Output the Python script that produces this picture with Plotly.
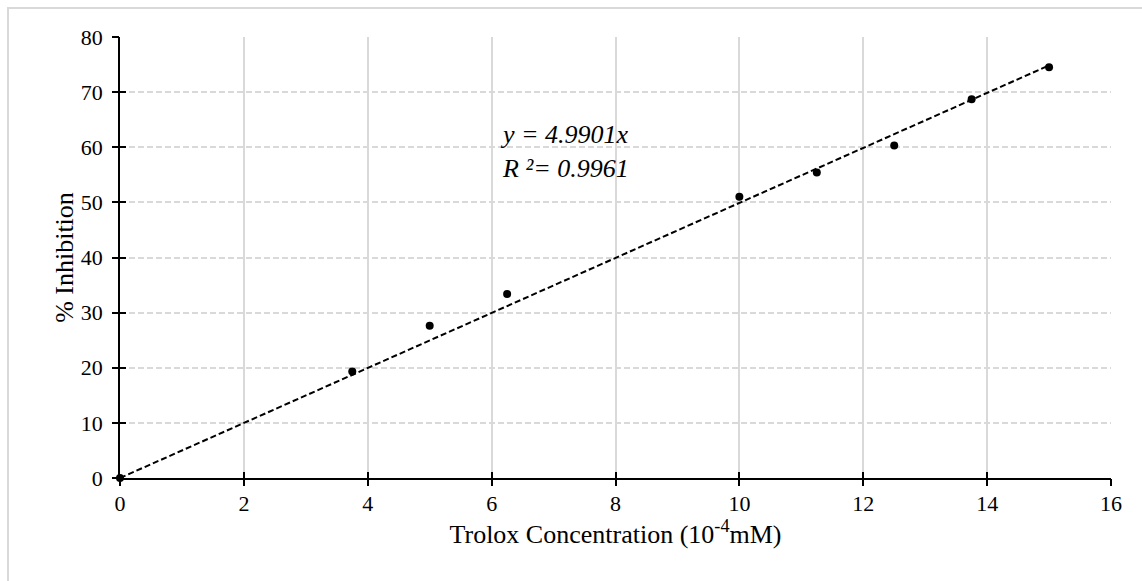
import plotly.graph_objects as go

conc = [0, 3.75, 5, 6.25, 10, 11.25, 12.5, 13.75, 15]
inhibition = [0, 19.3, 27.6, 33.4, 51.0, 55.4, 60.3, 68.7, 74.5]
slope = 4.9901
r2 = 0.9961
trend_x = [0, 15]
trend_y = [slope * v for v in trend_x]
x_ticks = list(range(0, 17, 2))
y_ticks = list(range(0, 81, 10))

FONT = "Liberation Serif"
TICK = 22
fig = go.Figure()
fig.add_trace(go.Scatter(x=trend_x, y=trend_y, mode="lines",
                         line=dict(color="black", width=2, dash="6px,3px"),
                         hoverinfo="skip", showlegend=False))
fig.add_trace(go.Scatter(x=conc, y=inhibition, mode="markers",
                         marker=dict(color="black", size=8),
                         showlegend=False, cliponaxis=False))

fig.update_layout(
    template="none",
    width=1142, height=581,
    margin=dict(l=120, r=31, t=37, b=103),
    paper_bgcolor="white", plot_bgcolor="white",
    font=dict(family=FONT, size=TICK, color="black"),
    xaxis=dict(range=[0, 16], tickvals=x_ticks, showgrid=True,
               gridcolor="#d9d9d9", gridwidth=1.5, automargin=False,
               showline=True, linecolor="black", linewidth=1.5,
               ticks="inside", ticklen=6, tickcolor="black", tickwidth=1.5,
               ticklabelstandoff=5,
               tickfont=dict(family=FONT, size=TICK, color="black"),
               zeroline=False,
               title=dict(text="Trolox Concentration (10<sup>-4</sup>mM)",
                          font=dict(family=FONT, size=26, color="black"), standoff=3)),
    yaxis=dict(range=[0, 80], tickvals=y_ticks, showgrid=True,
               gridcolor="#d9d9d9", gridwidth=1.5, griddash="6px,3px",
               automargin=False,
               showline=True, linecolor="black", linewidth=1.5,
               ticks="inside", ticklen=6, tickcolor="black", tickwidth=1.5,
               ticklabelstandoff=11,
               tickfont=dict(family=FONT, size=TICK, color="black"),
               zeroline=False,
               title=dict(text="% Inhibition",
                          font=dict(family=FONT, size=26, color="black"), standoff=0)),
    xaxis2=dict(range=[0, 16], tickvals=x_ticks, overlaying="x", side="bottom",
                showgrid=False, showticklabels=False, ticks="outside", ticklen=7,
                tickcolor="black", tickwidth=1.5, zeroline=False, anchor="y",
                automargin=False, showline=False),
    yaxis2=dict(range=[0, 80], tickvals=y_ticks, overlaying="y", side="left",
                showgrid=False, showticklabels=False, ticks="outside", ticklen=7,
                tickcolor="black", tickwidth=1.5, zeroline=False, anchor="x",
                automargin=False, showline=False),
)
fig.add_trace(go.Scatter(x=[None], y=[None], xaxis="x2", yaxis="y2",
                         showlegend=False, hoverinfo="skip"))

fig.add_annotation(x=6.1, y=59.3, xref="x", yref="y", xanchor="left", yanchor="middle",
                   align="left", showarrow=False,
                   text=f"<i>y = {slope}x</i><br><i>R ²= {r2}</i>",
                   font=dict(family=FONT, size=26, color="black"))

fig.add_shape(type="rect", xref="paper", yref="paper",
              x0=(8 - 120) / 991, x1=1.2, y0=-0.5, y1=(478 - 8) / 441,
              line=dict(color="#d9d9d9", width=2), fillcolor="rgba(0,0,0,0)",
              layer="below")

fig.write_html("out.html")
